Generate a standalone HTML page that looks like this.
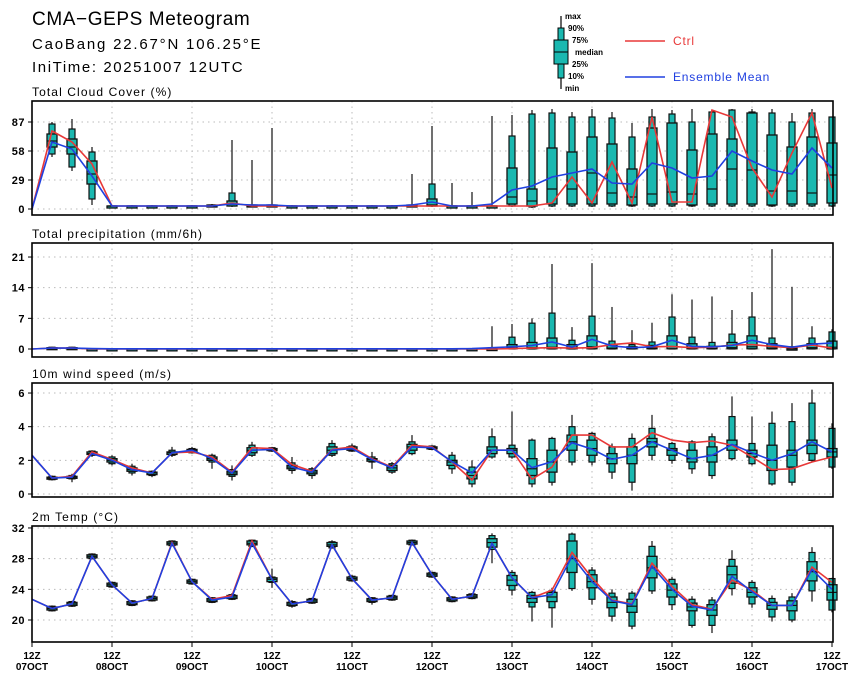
<!DOCTYPE html>
<html><head><meta charset="utf-8">
<style>
html,body{margin:0;padding:0;background:#fff;}
svg text{font-family:"Liberation Sans",sans-serif;}
</style></head>
<body>
<svg id="chart" width="860" height="680" viewBox="0 0 860 680" xmlns="http://www.w3.org/2000/svg">
<text x="32" y="25" font-size="19" letter-spacing="0.6" fill="#000">CMA−GEPS Meteogram</text>
<text x="32" y="49" font-size="15" letter-spacing="1.8" fill="#000">CaoBang 22.67°N 106.25°E</text>
<text x="32" y="72" font-size="15" letter-spacing="1.6" fill="#000">IniTime: 20251007 12UTC</text>
<g>
 <line x1="561" y1="16" x2="561" y2="89" stroke="#000" stroke-width="1.2"/>
 <rect x="558" y="28" width="6" height="50" fill="#1ab8b0" stroke="#000"/>
 <rect x="554" y="40" width="14" height="24" fill="#1ab8b0" stroke="#000"/>
 <line x1="554" y1="52" x2="568" y2="52" stroke="#000"/>
 <g font-size="8" font-weight="bold" fill="#000">
 <text x="565" y="19">max</text><text x="568" y="31">90%</text><text x="572" y="43">75%</text>
 <text x="575" y="55">median</text><text x="572" y="67">25%</text><text x="568" y="79">10%</text><text x="565" y="91">min</text></g>
 <line x1="625" y1="41" x2="665" y2="41" stroke="#e83838" stroke-width="1.6"/>
 <text x="673" y="45" font-size="12" letter-spacing="0.8" fill="#e83838">Ctrl</text>
 <line x1="625" y1="77" x2="665" y2="77" stroke="#2040e0" stroke-width="1.6"/>
 <text x="673" y="81" font-size="12" letter-spacing="0.8" fill="#2040e0">Ensemble Mean</text>
</g>
</svg>
<script>
const days=["07OCT","08OCT","09OCT","10OCT","11OCT","12OCT","13OCT","14OCT","15OCT","16OCT","17OCT"];
const cloudTicks=[0,29,58,87];
const precipTicks=[0,7,14,21];
const windTicks=[0,2,4,6];
const tempTicks=[20,24,28,32];

const cloudCtrl=[0,78,67,45,3,3,3,3,3,3,6,3,3,3,3,3,3,3,3,3,3,3,3,3,3,3,6,32,6,47,6,92,7,7,99,92,41,12,56,96,21];
const cloudMean=[0,67,60,33,3,3,3,3,3,3,5,4,4,3,3,3,3,3,3,4,7,3,3,5,19,23,32,36,40,26,25,46,41,31,33,58,48,39,35,61,41];
const cloudMax=[null,87,90,62,4,4,4,4,4,5,69,49,81,4,4,4,4,4,4,35,83,26,17,93,94,99,100,97,100,97,86,100,99,100,99,100,100,100,96,100,92];
const cloudP90=[null,85,80,57,3,3,3,3,3,4,16,4,4,3,3,3,3,3,3,4,25,3,3,3,73,95,96,92,92,91,72,92,95,87,97,99,97,96,87,96,92];
const cloudP75=[null,75,70,48,3,3,3,3,3,4,8,4,4,3,3,3,3,3,3,4,10,3,3,3,41,20,61,57,72,65,40,81,86,59,75,70,96,74,62,72,66];
const cloudMed=[null,68,62,35,3,3,3,3,3,3,5,3,3,3,3,3,3,3,3,3,4,3,3,3,12,8,20,20,36,16,12,15,17,15,20,40,39,18,18,16,34];
const cloudP25=[null,62,55,25,3,3,3,3,3,3,3,3,3,3,3,3,3,3,3,3,3,3,3,3,5,3,5,5,5,5,4,5,5,4,5,5,5,4,5,5,6];
const cloudP10=[null,55,42,10,3,3,3,3,3,3,3,3,3,3,3,3,3,3,3,3,3,3,3,3,3,2,3,3,3,3,3,3,3,3,3,3,3,3,3,3,3];
const cloudMin=[null,52,38,4,2,2,2,2,2,2,2,2,2,2,2,2,2,2,2,2,2,2,2,2,2,1,2,2,2,2,2,2,2,2,2,2,2,2,2,2,2];

const precipCtrl=[0,0.2,0.2,0,0,0,0,0,0,0,0,0,0,0,0,0,0,0,0,0,0,0,0,0,0.1,0.2,0.3,0.2,0.3,1.0,1.4,0.5,0.6,0.3,0.4,0.9,1.0,0.6,0.3,0.9,0.2];
const precipMean=[0,0.2,0.2,0.1,0.05,0.05,0.05,0.05,0.05,0.05,0.05,0.05,0.05,0.05,0.05,0.05,0.05,0.05,0.05,0.05,0.05,0.05,0.1,0.3,0.5,0.8,1.6,0.4,2.2,0.7,0.3,0.5,2.0,0.6,0.5,0.8,2.0,1.0,0.4,1.1,1.4];
const precipMax=[null,0.5,0.5,0.1,0.1,0.1,0.1,0.1,0.1,0.1,0.1,0.1,0.1,0.1,0.1,0.1,0.1,0.1,0.1,0.1,0.1,0.1,0.2,5.2,5.7,7.0,19.4,5.0,19.6,9.6,4.3,6.0,12.5,11.3,12.0,8.9,13.0,22.8,14.2,5.2,4.5];
const precipP90=[null,0.4,0.4,0.05,0.05,0.05,0.05,0.05,0.05,0.05,0.05,0.05,0.05,0.05,0.05,0.05,0.05,0.05,0.05,0.05,0.05,0.05,0.1,0.3,2.7,5.9,8.2,2.0,7.5,1.8,1.0,1.6,7.3,2.7,1.5,3.4,7.3,2.5,0.5,2.5,3.9];
const precipP75=[null,0.3,0.3,0.03,0.03,0.03,0.03,0.03,0.03,0.03,0.03,0.03,0.03,0.03,0.03,0.03,0.03,0.03,0.03,0.03,0.03,0.03,0.05,0.1,1.0,1.5,2.5,1.0,3.0,1.0,0.5,0.8,3.0,1.2,0.6,1.5,3.0,1.2,0.2,1.2,1.8];
const precipMed=[null,0.2,0.2,0,0,0,0,0,0,0,0,0,0,0,0,0,0,0,0,0,0,0,0,0,0.2,0.3,0.4,0.2,0.5,0.2,0.1,0.2,0.5,0.2,0.1,0.3,0.5,0.2,0.05,0.3,0.4];
const precipP25=[null,0.1,0.1,0,0,0,0,0,0,0,0,0,0,0,0,0,0,0,0,0,0,0,0,0,0.05,0.05,0.05,0.05,0.05,0.05,0.05,0.05,0.05,0.05,0.05,0.05,0.05,0.05,0,0.05,0.05];
const precipP10=[null,0.05,0.05,0,0,0,0,0,0,0,0,0,0,0,0,0,0,0,0,0,0,0,0,0,0,0,0,0,0,0,0,0,0,0,0,0,0,0,0,0,0];
const precipMin=[null,0,0,0,0,0,0,0,0,0,0,0,0,0,0,0,0,0,0,0,0,0,0,0,0,0,0,0,0,0,0,0,0,0,0,0,0,0,0,0,0];

const windMean=[2.3,0.95,1.0,2.4,2.0,1.45,1.25,2.45,2.6,2.1,1.25,2.6,2.65,1.6,1.3,2.6,2.7,2.05,1.55,2.8,2.75,1.92,1.25,2.6,2.6,1.56,1.92,3.05,2.67,2.06,2.3,3.1,2.6,2.1,2.3,2.95,2.45,2.0,2.4,3.1,2.5];
const windCtrl=[2.3,0.95,1.05,2.5,2.05,1.55,1.25,2.45,2.5,2.2,1.3,2.75,2.7,1.75,1.35,2.65,2.8,2.1,1.6,2.9,2.8,1.9,0.83,2.6,2.6,0.88,1.6,3.5,3.5,2.8,2.8,3.64,3.2,3.05,3.15,2.9,2.2,1.45,1.5,1.9,2.2];
const windMax=[null,1.1,1.2,2.6,2.3,1.8,1.4,2.8,2.8,2.4,1.7,3.1,2.8,2.2,1.6,3.2,3.0,2.5,1.9,3.5,2.9,2.5,2.0,3.9,4.9,3.3,3.4,4.7,3.7,3.0,3.6,4.7,3.1,3.2,3.6,5.8,4.6,4.9,5.4,6.2,4.2];
const windP90=[null,1.05,1.1,2.55,2.2,1.65,1.35,2.6,2.7,2.3,1.45,2.9,2.75,1.85,1.5,3.0,2.85,2.2,1.8,3.1,2.85,2.3,1.6,3.4,2.9,3.2,3.3,4.0,3.6,2.8,3.3,3.9,3.0,3.1,3.4,4.6,3.0,4.2,4.3,5.4,3.9];
const windP75=[null,1.0,1.05,2.5,2.1,1.55,1.3,2.5,2.65,2.2,1.35,2.75,2.7,1.7,1.4,2.8,2.8,2.1,1.7,2.95,2.8,2.0,1.3,2.8,2.7,2.1,2.6,3.5,3.2,2.4,2.8,3.3,2.7,2.6,2.8,3.2,2.6,2.9,2.6,3.2,2.7];
const windMed=[null,0.95,1.0,2.4,2.0,1.45,1.25,2.45,2.6,2.1,1.25,2.6,2.65,1.6,1.3,2.6,2.7,2.05,1.55,2.8,2.75,1.9,1.1,2.6,2.6,1.5,1.9,3.1,2.7,2.1,2.3,3.1,2.6,2.1,2.3,2.9,2.4,2.0,2.3,2.9,2.5];
const windP25=[null,0.9,0.95,2.35,1.9,1.35,1.15,2.35,2.5,2.0,1.15,2.45,2.6,1.5,1.2,2.4,2.6,1.95,1.4,2.6,2.7,1.7,0.9,2.4,2.4,1.1,1.3,2.6,2.3,1.8,1.8,2.8,2.3,1.9,1.9,2.6,2.2,1.4,1.6,2.4,2.2];
const windP10=[null,0.85,0.9,2.3,1.8,1.25,1.1,2.3,2.45,1.9,1.05,2.3,2.55,1.4,1.1,2.3,2.55,1.9,1.3,2.4,2.65,1.5,0.6,2.2,2.2,0.6,0.7,1.9,1.9,1.3,0.7,2.3,2.0,1.5,1.1,2.1,1.8,0.6,0.7,2.0,1.6];
const windMin=[null,0.8,0.7,2.2,1.7,1.1,1.0,2.2,2.4,1.5,0.8,2.2,2.5,1.2,0.9,2.2,2.5,1.5,1.2,2.3,2.6,1.2,0.4,2.1,2.1,0.4,0.5,1.7,1.7,0.9,0.2,2.0,1.8,1.2,0.9,2.0,1.7,0.5,0.5,1.9,1.5];

const tempMean=[22.7,21.5,22.1,28.3,24.6,22.2,22.8,30.0,25.0,22.6,23.0,30.0,25.3,22.1,22.5,29.8,25.4,22.6,22.9,30.1,25.9,22.7,23.1,30.0,25.5,22.9,23.3,28.3,25.0,22.5,22.0,27.0,24.0,21.8,21.3,25.7,23.7,21.9,21.9,26.6,24.0];
const tempCtrl=[22.7,21.5,22.1,28.3,24.6,22.2,22.8,30.1,25.0,22.7,23.2,30.3,25.3,22.1,22.5,29.8,25.4,22.6,22.9,30.1,25.9,22.7,23.1,30.0,25.5,22.9,23.9,28.8,25.5,22.6,22.1,27.4,24.4,22.0,21.4,25.2,23.9,21.9,21.9,26.9,24.9];
const tempMax=[null,21.9,22.5,28.7,25.0,22.6,23.2,30.4,25.4,23.0,23.5,30.5,26.7,22.6,22.9,30.4,25.9,23.0,23.3,30.5,26.3,23.1,23.5,31.3,26.5,23.8,24.2,31.4,26.9,24.0,23.8,30.3,25.6,23.1,23.0,29.1,25.2,23.2,23.5,29.5,25.5];
const tempP90=[null,21.8,22.4,28.6,24.9,22.5,23.1,30.3,25.3,22.9,23.3,30.4,25.6,22.4,22.8,30.2,25.7,22.9,23.2,30.4,26.2,23.0,23.4,31.0,26.2,23.6,23.8,31.2,26.5,23.5,23.5,29.6,25.3,22.7,22.6,27.9,24.9,22.8,23.0,28.8,25.4];
const tempP75=[null,21.7,22.3,28.5,24.8,22.4,23.0,30.2,25.2,22.8,23.2,30.3,25.5,22.3,22.7,30.1,25.6,22.8,23.1,30.3,26.1,22.9,23.3,30.6,25.8,23.2,23.6,30.3,25.9,23.0,22.7,28.3,24.7,22.2,22.0,27.0,24.2,22.3,22.5,27.6,24.6];
const tempMed=[null,21.5,22.1,28.3,24.6,22.2,22.8,30.0,25.0,22.6,23.0,30.0,25.3,22.1,22.5,29.8,25.4,22.6,22.9,30.1,25.9,22.7,23.1,30.1,25.2,22.8,23.0,28.0,25.0,22.3,21.8,26.8,23.9,21.7,21.3,25.9,23.6,21.9,21.9,26.3,23.6];
const tempP25=[null,21.3,21.9,28.1,24.4,22.0,22.6,29.8,24.8,22.4,22.8,29.8,25.0,21.9,22.3,29.6,25.2,22.4,22.7,29.9,25.7,22.5,22.9,29.5,24.5,22.3,22.4,26.2,24.2,21.6,21.0,25.5,23.0,21.2,20.6,24.8,23.0,21.4,21.2,25.1,22.6];
const tempP10=[null,21.2,21.8,28.0,24.3,21.9,22.5,29.7,24.7,22.3,22.7,29.6,24.9,21.8,22.2,29.4,25.1,22.3,22.6,29.8,25.6,22.4,22.8,29.2,23.9,21.7,21.6,24.1,22.7,20.5,19.2,23.8,22.0,19.3,19.3,24.1,22.1,20.4,20.0,23.8,21.3];
const tempMin=[null,21.1,21.7,27.9,24.2,21.8,22.4,29.6,24.6,22.2,22.6,29.5,24.2,21.6,22.1,29.3,25.0,22.0,22.5,29.7,25.5,22.3,22.7,27.4,23.2,19.8,19.0,23.8,22.0,19.8,18.8,23.4,21.3,19.0,18.3,23.2,21.6,19.8,19.7,22.4,21.0];

const NS="http://www.w3.org/2000/svg";
const svg=document.getElementById('chart');
const X0=32, XSTEP=20, X1=833;
function xs(i){return X0+i*XSTEP;}
function mk(tag,attrs,parent){const e=document.createElementNS(NS,tag);for(const k in attrs)e.setAttribute(k,attrs[k]);(parent||svg).appendChild(e);return e;}

const panels=[
 {key:"cloud",title:"Total Cloud Cover (%)",top:101,bot:215,y0:209,v0:0,scale:1.0,ticks:cloudTicks,ctrl:cloudCtrl,mean:cloudMean,mn:cloudMin,p10:cloudP10,p25:cloudP25,med:cloudMed,p75:cloudP75,p90:cloudP90,mx:cloudMax},
 {key:"precip",title:"Total precipitation (mm/6h)",top:243,bot:357,y0:349,v0:0,scale:4.38,ticks:precipTicks,ctrl:precipCtrl,mean:precipMean,mn:precipMin,p10:precipP10,p25:precipP25,med:precipMed,p75:precipP75,p90:precipP90,mx:precipMax},
 {key:"wind",title:"10m wind speed (m/s)",top:383,bot:497,y0:494,v0:0,scale:16.83,ticks:windTicks,ctrl:windCtrl,mean:windMean,mn:windMin,p10:windP10,p25:windP25,med:windMed,p75:windP75,p90:windP90,mx:windMax},
 {key:"temp",title:"2m Temp (°C)",top:526,bot:642,y0:620,v0:20,scale:7.67,ticks:tempTicks,ctrl:tempCtrl,mean:tempMean,mn:tempMin,p10:tempP10,p25:tempP25,med:tempMed,p75:tempP75,p90:tempP90,mx:tempMax}
];

panels.forEach(p=>{
 const ys=v=>p.y0-(v-p.v0)*p.scale;
 const g=mk('g',{});
 
 
 const t=mk('text',{x:32,y:p.top-5,'font-size':12,'letter-spacing':1.1,fill:'#000'},g);
 t.textContent=p.title;
 
 
 const grid=mk('g',{stroke:'#bbb','stroke-width':1,'stroke-dasharray':'1.5,4'},g);
 
 
 p.ticks.forEach(v=>{const y=ys(v);mk('line',{x1:X0,x2:X1,y1:y,y2:y},grid);});
 for(let d=1;d<10;d++){mk('line',{x1:xs(d*4),x2:xs(d*4),y1:p.top,y2:p.bot},grid);}
 p.ticks.forEach(v=>{
  const y=ys(v);
  mk('line',{x1:X0-4,x2:X0,y1:y,y2:y,stroke:'#000'},g);
  const l=mk('text',{x:X0-7,y:y+4,'font-size':11,'font-weight':'bold','text-anchor':'end','letter-spacing':0.5,fill:'#000'},g);
  l.textContent=v;
  
  
 });
 for(let i=1;i<p.mean.length;i++){
  if(p.mx[i]==null)continue;
  const x=xs(i);
  const bg=mk('g',{},g);
  
  
  mk('line',{x1:x,x2:x,y1:ys(p.mx[i]),y2:ys(p.mn[i]),stroke:'#222','stroke-width':1.3},bg);
  const h1=Math.max(ys(p.p10[i])-ys(p.p90[i]),1.5);
  mk('rect',{x:x-3,y:ys(p.p90[i]),width:6,height:h1,fill:'#1ab8b0',stroke:'#111','stroke-width':1.2},bg);
  const h2=Math.max(ys(p.p25[i])-ys(p.p75[i]),2);
  mk('rect',{x:x-5,y:ys(p.p75[i]),width:10,height:h2,fill:'#1ab8b0',stroke:'#111','stroke-width':1.3},bg);
  mk('line',{x1:x-5,x2:x+5,y1:ys(p.med[i]),y2:ys(p.med[i]),stroke:'#111','stroke-width':1.2},bg);
 }
 const path=arr=>arr.map((v,i)=>(i?'L':'M')+xs(i).toFixed(1)+','+ys(v).toFixed(1)).join('');
 const c=mk('path',{d:path(p.ctrl),fill:'none',stroke:'#e83838','stroke-width':1.6},g);
 
 
 const m=mk('path',{d:path(p.mean),fill:'none',stroke:'#2040e0','stroke-width':1.6},g);
 
 
 const f=mk('rect',{x:X0,y:p.top,width:X1-X0,height:p.bot-p.top,fill:'none',stroke:'#000','stroke-width':1.6},g);
 
 
});

const xa=mk('g',{});


days.forEach((d,k)=>{
 const x=xs(k*4);
 mk('line',{x1:x,x2:x,y1:642,y2:647,stroke:'#000'},xa);
 const t1=mk('text',{x:x,y:659,'font-size':10,'font-weight':'bold','text-anchor':'middle',fill:'#000'},xa);
 t1.textContent='12Z';
 
 
 const t2=mk('text',{x:x,y:670,'font-size':10,'font-weight':'bold','text-anchor':'middle',fill:'#000'},xa);
 t2.textContent=d;
 
 
});
</script>
</body></html>
